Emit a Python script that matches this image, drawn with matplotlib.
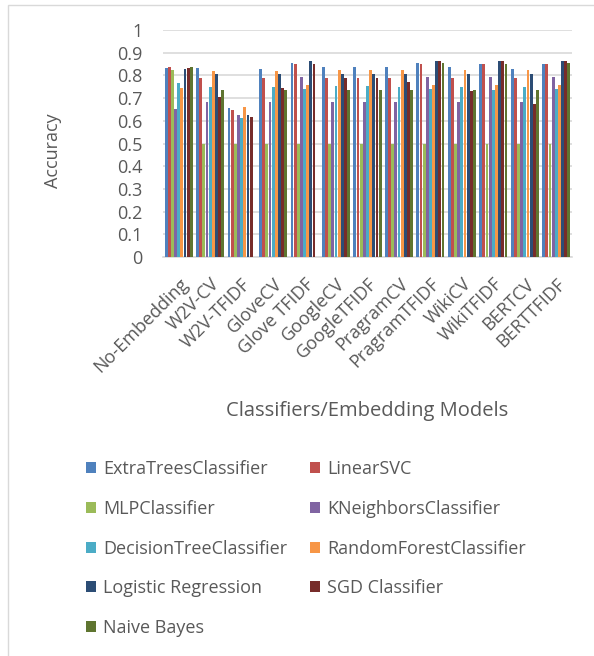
import numpy as np
import matplotlib.pyplot as plt
from matplotlib.patches import Patch, Rectangle

plt.rcParams['font.family'] = ['Open Sans', 'DejaVu Sans']

categories = ['No-Embedding', 'W2V-CV', 'W2V-TFIDF', 'GloveCV', 'Glove TFIDF',
              'GoogleCV', 'GoogleTFIDF', 'PragramCV', 'PragramTFIDF', 'WikiCV',
              'WikiTFIDF', 'BERTCV', 'BERTTFIDF']

classifiers = ['ExtraTreesClassifier', 'LinearSVC', 'MLPClassifier',
               'KNeighborsClassifier', 'DecisionTreeClassifier',
               'RandomForestClassifier', 'Logistic Regression', 'SGD Classifier',
               'Naive Bayes']

nan = np.nan
extra_trees = [0.834, 0.831, 0.657, 0.826, 0.853, 0.838, 0.838, 0.835, 0.853, 0.835, 0.849, 0.828, 0.849]
linear_svc = [0.835, 0.788, 0.647, 0.788, 0.850, 0.788, 0.788, 0.788, 0.850, 0.788, 0.850, 0.788, 0.850]
mlp = [0.824, 0.496, 0.496, 0.496, 0.496, 0.496, 0.496, 0.496, 0.496, 0.496, 0.496, 0.496, 0.496]
kneighbors = [0.650, 0.684, 0.626, 0.684, 0.794, 0.684, 0.684, 0.684, 0.794, 0.684, 0.794, 0.684, 0.794]
decision_tree = [0.765, 0.751, 0.613, 0.749, 0.741, 0.754, 0.754, 0.751, 0.741, 0.747, 0.735, 0.747, 0.740]
random_forest = [0.744, 0.820, 0.659, 0.820, 0.759, 0.824, 0.824, 0.824, 0.759, 0.824, 0.759, 0.824, 0.759]
logistic = [0.826, 0.806, 0.624, 0.806, 0.862, 0.806, 0.806, 0.806, 0.862, 0.806, 0.862, 0.806, 0.862]
sgd = [0.831, 0.706, 0.618, 0.746, 0.851, 0.787, 0.787, 0.769, 0.865, 0.732, 0.865, 0.674, 0.865]
naive_bayes = [0.838, 0.735, nan, 0.735, nan, 0.735, 0.735, 0.735, 0.853, 0.735, 0.850, 0.735, 0.853]

series = [extra_trees, linear_svc, mlp, kneighbors, decision_tree,
          random_forest, logistic, sgd, naive_bayes]
colors = ['#4F81BD', '#C0504D', '#9BBB59', '#8064A2', '#4BACC6',
          '#F79646', '#2C4D75', '#772C2A', '#5F7530']

text_color = '#595959'

fig = plt.figure(figsize=(5.94, 6.56), dpi=100)
ax = fig.add_axes([163 / 594, 1 - 257 / 656, (572 - 163) / 594, (257 - 30) / 656])

x = np.arange(len(categories))
width = 0.1
for i, vals in enumerate(series):
    offset = (i - 4) * width
    ax.bar(x + offset, vals, width * 0.9, color=colors[i], zorder=3)

ax.set_xlim(-0.5, len(categories) - 0.5)
ax.set_ylim(0, 1)
yt = np.round(np.arange(0, 1.01, 0.1), 1)
ax.set_yticks(yt)
ax.set_yticklabels(['0' if v == 0 else ('1' if v == 1 else f'{v:g}') for v in yt])
ax.set_xticks(x)
ax.set_xticklabels(categories, rotation=45, ha='right', rotation_mode='anchor')

ax.grid(axis='y', color='#D9D9D9', linewidth=1.2, zorder=0)
for s in ['top', 'right', 'left']:
    ax.spines[s].set_visible(False)
ax.spines['bottom'].set_color('#D9D9D9')
ax.spines['bottom'].set_linewidth(1.2)
ax.tick_params(axis='both', length=0, colors=text_color, labelsize=13)
ax.tick_params(axis='y', pad=15)
ax.tick_params(axis='x', pad=13)

ax.set_ylabel('Accuracy', fontsize=13, color=text_color)
ax.yaxis.set_label_coords(-0.247, 0.47)
ax.set_xlabel('Classifiers/Embedding Models', fontsize=14.5, color=text_color, labelpad=18)

# row-major order for a two-column legend
order = [0, 2, 4, 6, 8, 1, 3, 5, 7]
handles = [Patch(facecolor=colors[i], label=classifiers[i]) for i in order]
fig.legend(handles=handles, ncol=2, loc='upper left', bbox_to_anchor=(70 / 594, 1 - 444 / 656),
           frameon=False, fontsize=13, labelcolor=text_color, handlelength=0.55,
           handleheight=0.55, handletextpad=0.4, labelspacing=1.2, columnspacing=1.25)

fig.patches.append(Rectangle((8 / 594, -0.1), 1.2, 1 - 5 / 656 + 0.1, transform=fig.transFigure,
                             fill=False, edgecolor='#D9D9D9', linewidth=1))

fig.savefig('out.png', dpi=100)
